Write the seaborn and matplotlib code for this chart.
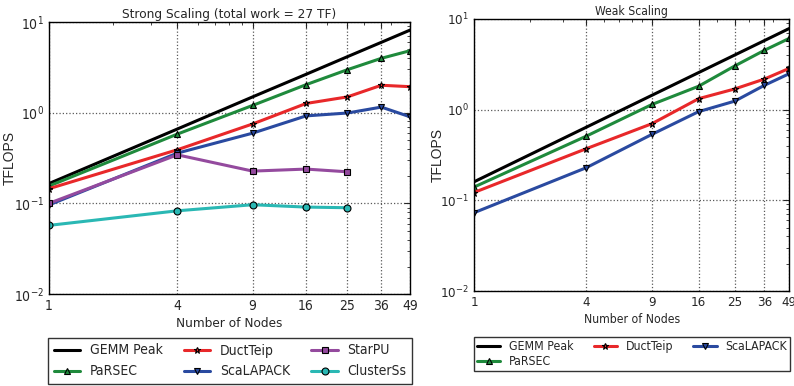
import numpy as np
import pandas as pd
import matplotlib
matplotlib.use("Agg")
import matplotlib.pyplot as plt
import matplotlib.ticker as mticker
from matplotlib import font_manager
from matplotlib.lines import Line2D
import seaborn as sns

# nodes
nodes = [1, 4, 9, 16, 25, 36, 49]
nodes_short = [1, 4, 9, 16, 25]

# strong scaling (TFLOPS)
strong_gemm = [0.165, 0.66, 1.49, 2.64, 4.13, 5.94, 8.09]
strong_parsec = [0.155, 0.58, 1.2, 2.03, 2.97, 3.96, 4.8]
strong_ducteip = [0.145, 0.39, 0.75, 1.26, 1.49, 2.0, 1.93]
strong_scalapack = [0.096, 0.358, 0.594, 0.92, 0.99, 1.15, 0.90]
strong_starpu = [0.100, 0.343, 0.227, 0.239, 0.223]
strong_clusterss = [0.0573, 0.083, 0.0968, 0.0912, 0.0897]

# weak scaling (TFLOPS)
weak_gemm = [0.16, 0.64, 1.44, 2.56, 4.0, 5.76, 7.84]
weak_parsec = [0.140, 0.51, 1.14, 1.81, 3.03, 4.5, 6.1]
weak_ducteip = [0.122, 0.371, 0.70, 1.32, 1.69, 2.17, 2.85]
weak_scalapack = [0.073, 0.229, 0.534, 0.95, 1.24, 1.85, 2.49]

colors = {"GEMM Peak": "black", "PaRSEC": "#1f8a3c", "DuctTeip": "#e8282a",
          "ScaLAPACK": "#2a4aa0", "StarPU": "#944a9e", "ClusterSs": "#2ab8b4"}
markers = {"GEMM Peak": None, "PaRSEC": "^", "DuctTeip": "*",
           "ScaLAPACK": "v", "StarPU": "s", "ClusterSs": "o"}

# narrow font, closest first
fonts = font_manager.fontManager.ttflist
candidates = [("DejaVu Sans", "condensed"), ("Noto Sans", "condensed"),
              ("Open Sans", "condensed"), ("Noto Sans Condensed", None),
              ("Open Sans Condensed", None), ("Roboto Condensed", None),
              ("Archivo Narrow", None), ("Asap Condensed", None)]
fam, stretch, scale = "DejaVu Sans", "normal", 0.82
for name, st in candidates:
    if any(f.name == name and (st is None or f.stretch == st) for f in fonts):
        fam, stretch, scale = name, (st or "normal"), 1.0
        break

sns.set_style("white")
plt.rcParams["font.family"] = [fam, "DejaVu Sans"]
plt.rcParams["font.stretch"] = stretch
plt.rcParams["mathtext.fontset"] = "custom"
plt.rcParams["mathtext.rm"] = fam
plt.rcParams["xtick.direction"] = "in"
plt.rcParams["ytick.direction"] = "in"
plt.rcParams["xtick.top"] = True
plt.rcParams["ytick.right"] = True
plt.rcParams["xtick.major.size"] = 4
plt.rcParams["ytick.major.size"] = 4
plt.rcParams["xtick.minor.size"] = 2
plt.rcParams["ytick.minor.size"] = 2
plt.rcParams["xtick.minor.visible"] = True
plt.rcParams["ytick.minor.visible"] = True

fig = plt.figure(figsize=(7.94, 3.86), dpi=100)
ax1 = fig.add_axes([0.0613, 0.2376, 0.455, 0.706])
ax2 = fig.add_axes([0.597, 0.246, 0.397, 0.705])


def draw(ax, series, fs, tfs):
    handles = []
    for name, xs, ys in series:
        df = pd.DataFrame({"x": xs, "y": ys})
        sns.lineplot(data=df, x="x", y="y", ax=ax, color=colors[name],
                     marker=markers[name], markersize=5, markeredgecolor="black",
                     markeredgewidth=0.8, linewidth=2.2, legend=False)
        handles.append(Line2D([], [], color=colors[name], marker=markers[name],
                              markersize=5, markeredgecolor="black",
                              markeredgewidth=0.8, linewidth=2.2, label=name))
    ax.set_xscale("log")
    ax.set_yscale("log")
    ax.set_xlim(1, 49)
    ax.set_ylim(1e-2, 1e1)
    ax.xaxis.set_major_locator(mticker.FixedLocator(nodes))
    ax.xaxis.set_major_formatter(mticker.FixedFormatter([str(n) for n in nodes]))
    ax.xaxis.set_minor_locator(mticker.LogLocator(base=10, subs=np.arange(2, 10)))
    ax.xaxis.set_minor_formatter(mticker.NullFormatter())
    ax.grid(True, which="major", linestyle=":", color="0.35", linewidth=0.9)
    ax.set_xlabel("Number of Nodes", fontsize=fs * scale, labelpad=3)
    ax.set_ylabel("TFLOPS", fontsize=10, family="Liberation Sans",
                  fontstretch="normal")
    ax.tick_params(labelsize=tfs * scale)
    for s in ax.spines.values():
        s.set_color("black")
        s.set_linewidth(1.0)
    return handles


h1 = draw(ax1, [("GEMM Peak", nodes, strong_gemm),
                ("PaRSEC", nodes, strong_parsec),
                ("DuctTeip", nodes, strong_ducteip),
                ("ScaLAPACK", nodes, strong_scalapack),
                ("StarPU", nodes_short, strong_starpu),
                ("ClusterSs", nodes_short, strong_clusterss)], 9.7, 10)
ax1.set_title("Strong Scaling (total work = 27 TF)", fontsize=9.7 * scale, pad=3)
ax1.yaxis.set_label_coords(-0.087, 0.5)

h2 = draw(ax2, [("GEMM Peak", nodes, weak_gemm),
                ("PaRSEC", nodes, weak_parsec),
                ("DuctTeip", nodes, weak_ducteip),
                ("ScaLAPACK", nodes, weak_scalapack)], 8.7, 9.5)
ax2.set_title("Weak Scaling", fontsize=8.7 * scale, pad=3)
ax2.yaxis.set_label_coords(-0.094, 0.5)

leg1 = fig.legend(handles=h1, ncol=3, loc="lower left", mode="expand",
                  bbox_to_anchor=(48 / 794, 2 / 386, 364 / 794, 46 / 386),
                  fontsize=10 * scale, frameon=True, fancybox=False,
                  edgecolor="black", handlelength=1.9, handletextpad=0.7,
                  borderaxespad=0, borderpad=0.4, columnspacing=1.0,
                  labelspacing=0.5)
leg1.get_frame().set_linewidth(1.0)
leg2 = fig.legend(handles=h2, ncol=3, loc="lower left", mode="expand",
                  bbox_to_anchor=(474 / 794, 15 / 386, 316 / 794, 37 / 386),
                  fontsize=8.8 * scale, frameon=True, fancybox=False,
                  edgecolor="black", handlelength=1.9, handletextpad=0.7,
                  borderaxespad=0, borderpad=0.25, columnspacing=1.0,
                  labelspacing=0.15)
leg2.get_frame().set_linewidth(1.0)

fig.savefig("out.png", dpi=100)
